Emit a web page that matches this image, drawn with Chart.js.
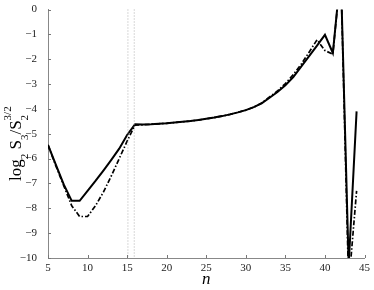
<!DOCTYPE html>
<html>
<head>
<meta charset="utf-8">
<script src="https://cdn.jsdelivr.net/npm/chart.js@4"></script>
<style>
  html, body { margin: 0; padding: 0; background: #fff; }
  #wrap { width: 374px; height: 290px; }
</style>
</head>
<body>
<div id="wrap"><canvas id="ratioChart"></canvas></div>
<script>
// n = 5 .. 44
const nValues = [5, 6, 7, 8, 9, 10, 11, 12, 13, 14, 15, 16, 17, 18, 19, 20, 21, 22, 23, 24,
                 25, 26, 27, 28, 29, 30, 31, 32, 33, 34, 35, 36, 37, 38, 39, 40, 41, 42, 43, 44];

// linea continua
const solidSeries = [-5.45, -6.25, -7.05, -7.7, -7.7, -7.3, -6.9, -6.48, -6.05, -5.6,
                     -5.05, -4.62, -4.63, -4.62, -4.6, -4.58, -4.55, -4.52, -4.49, -4.45,
                     -4.4, -4.35, -4.29, -4.22, -4.14, -4.05, -3.93, -3.78, -3.55, -3.32,
                     -3.05, -2.72, -2.3, -1.88, -1.45, -1.02, -1.75, 1.5, -10.3, -4.1];

// linea punto-raya
const dashDotSeries = [-5.45, -6.3, -7.1, -7.9, -8.33, -8.33, -7.9, -7.35, -6.7, -6.0,
                       -5.3, -4.65, -4.64, -4.62, -4.6, -4.58, -4.55, -4.52, -4.49, -4.45,
                       -4.4, -4.35, -4.29, -4.22, -4.14, -4.05, -3.93, -3.76, -3.52, -3.28,
                       -2.98, -2.62, -2.2, -1.72, -1.22, -1.65, -1.8, 1.5, -11.1, -7.3];

// lineas verticales punteadas
const markerN = [15.1, 15.9];

const xTicks = [5, 10, 15, 20, 25, 30, 35, 40, 45];
const yTicks = [0, -1, -2, -3, -4, -5, -6, -7, -8, -9, -10];

const serif = "'Liberation Serif', 'Times New Roman', serif";

function toPoints(ys) {
    return nValues.map((n, i) => ({ x: n, y: ys[i] }));
}

const datasets = markerN.map(n => ({
    data: [{ x: n, y: yTicks[0] }, { x: n, y: yTicks[yTicks.length - 1] }],
    borderColor: '#b0b0b0',
    borderWidth: 1,
    borderDash: [1, 2],
    pointRadius: 0,
    clip: false
}));

datasets.push({
    data: toPoints(dashDotSeries),
    borderColor: '#000',
    borderWidth: 1.7,
    borderDash: [5, 2, 1.5, 2],
    pointRadius: 0,
    tension: 0
});

datasets.push({
    data: toPoints(solidSeries),
    borderColor: '#000',
    borderWidth: 2,
    pointRadius: 0,
    tension: 0
});

// marcas de los ejes hacia dentro y titulo del eje y con sub/superindices
const axisExtras = {
    id: 'axisExtras',
    afterDraw(chart) {
        const ctx = chart.ctx;
        const xs = chart.scales.x;
        const ys = chart.scales.y;
        const area = chart.chartArea;
        ctx.save();
        ctx.strokeStyle = '#777';
        ctx.lineWidth = 1;
        ctx.beginPath();
        xTicks.forEach(v => {
            const px = Math.round(xs.getPixelForValue(v)) + 0.5;
            ctx.moveTo(px, area.bottom);
            ctx.lineTo(px, area.bottom - 3);
        });
        yTicks.forEach(v => {
            const py = Math.round(ys.getPixelForValue(v)) + 0.5;
            ctx.moveTo(area.left, py);
            ctx.lineTo(area.left + 3, py);
        });
        ctx.stroke();

        // log_2 S_3/S_2^{3/2}
        const main = '17px ' + serif;
        const small = '11px ' + serif;
        const parts = [
            { t: 'log', f: main, dy: 0 },
            { t: '2', f: small, dy: 6.5 },
            { t: ' ', f: main, dy: 0 },
            { t: 'S', f: main, dy: 0 },
            { t: '3', f: small, dy: 6.5 },
            { t: '/', f: main, dy: 0 },
            { t: 'S', f: main, dy: 0 },
            { t: '2', f: small, dy: 6.5, stack: true },
            { t: '3/2', f: small, dy: -10 }
        ];
        ctx.translate(21, 181);
        ctx.rotate(-Math.PI / 2);
        ctx.fillStyle = '#000';
        ctx.textBaseline = 'alphabetic';
        ctx.textAlign = 'left';
        let pos = 0;
        parts.forEach(p => {
            ctx.font = p.f;
            ctx.fillText(p.t, pos, p.dy);
            if (!p.stack) pos += ctx.measureText(p.t).width;
        });
        ctx.restore();
    }
};

new Chart(document.getElementById('ratioChart'), {
    type: 'line',
    data: { datasets: datasets },
    options: {
        responsive: true,
        maintainAspectRatio: false,
        animation: false,
        layout: { padding: { top: 9.5, right: 9.5, left: 0, bottom: 0 } },
        plugins: {
            legend: { display: false },
            tooltip: { enabled: false }
        },
        scales: {
            x: {
                type: 'linear',
                min: 5,
                max: 45,
                afterFit: s => {
                    s.height = 32;
                    s.paddingLeft = 0;
                    s.paddingRight = 0;
                },
                afterBuildTicks: s => { s.ticks = xTicks.map(v => ({ value: v })); },
                grid: { display: true, drawOnChartArea: false, drawTicks: false },
                border: { display: true, color: '#888', width: 1 },
                ticks: {
                    padding: 4,
                    color: '#222',
                    maxRotation: 0,
                    font: { family: serif, size: 11 }
                },
                title: {
                    display: true,
                    text: 'n',
                    color: '#000',
                    padding: { top: 0, bottom: 0 },
                    font: { family: serif, size: 17, style: 'italic' }
                }
            },
            y: {
                min: -10,
                max: 0,
                afterFit: s => {
                    s.width = 48;
                    s.paddingTop = 0;
                    s.paddingBottom = 0;
                },
                afterBuildTicks: s => { s.ticks = yTicks.map(v => ({ value: v })); },
                grid: { display: true, drawOnChartArea: false, drawTicks: false },
                border: { display: true, color: '#888', width: 1 },
                ticks: {
                    padding: 11,
                    color: '#222',
                    font: { family: serif, size: 11 },
                    callback: v => String(v).replace('-', '\u2212')
                }
            }
        }
    },
    plugins: [axisExtras]
});
</script>
</body>
</html>
